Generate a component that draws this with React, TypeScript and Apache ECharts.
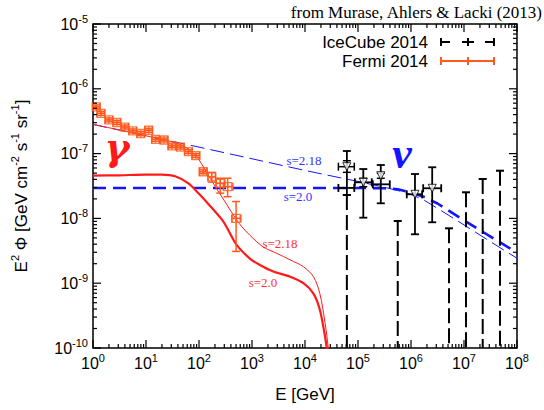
import React, { useEffect, useRef } from "react";
import * as echarts from "echarts";

// axis extents
const X_MIN = 1;
const X_MAX = 1e8;
const Y_MIN = 1e-10;
const Y_MAX = 1e-5;

// all values below as log10(E/GeV) and log10(E^2 Phi)
// neutrino model lines
const nuThinLogE = [0, 1, 2, 3, 4, 5, 5.5, 5.75, 6.0, 6.25, 6.5, 7.0, 7.5, 8.0];
const nuThinLogF = [-6.55, -6.725, -6.9, -7.08, -7.26, -7.43, -7.52, -7.57, -7.63, -7.72, -7.845, -8.1, -8.36, -8.615];
const nuThickLogE = [0, 5.0, 5.5, 5.75, 6.0, 6.25, 6.5, 7.0, 7.5, 8.0];
const nuThickLogF = [-7.53, -7.53, -7.535, -7.55, -7.6, -7.67, -7.77, -8.03, -8.28, -8.53];

// gamma-ray model lines
const gamThickLogE = [0, 0.5, 1.0, 1.3, 1.55, 1.8, 2.0, 2.21, 2.46, 2.71, 2.96, 3.15, 3.4, 3.72, 3.97, 4.16, 4.28, 4.38, 4.41, 4.44];
const gamThickLogF = [-7.34, -7.335, -7.325, -7.325, -7.35, -7.46, -7.62, -7.81, -8.05, -8.41, -8.62, -8.72, -8.82, -8.9, -9.0, -9.16, -9.41, -9.83, -10.0, -10.2];
const gamThinLogE = [0, 0.5, 1.0, 1.3, 1.5, 1.64, 1.8, 1.96, 2.13, 2.3, 2.48, 2.65, 2.8, 2.96, 3.21, 3.47, 3.72, 3.97, 4.16, 4.28, 4.38, 4.44, 4.47];
const gamThinLogF = [-6.548, -6.636, -6.725, -6.78, -6.82, -6.86, -6.93, -7.05, -7.27, -7.5, -7.73, -7.95, -8.12, -8.26, -8.44, -8.54, -8.64, -8.745, -8.9, -9.16, -9.62, -10.0, -10.2];

// Fermi 2014
const fermiLogE = [0.06, 0.15, 0.3, 0.45, 0.6, 0.75, 0.9, 1.05, 1.18, 1.34, 1.49, 1.65, 1.8, 1.94, 2.08, 2.24, 2.4, 2.54, 2.7];
const fermiLogF = [-6.28, -6.38, -6.48, -6.52, -6.59, -6.65, -6.69, -6.64, -6.78, -6.79, -6.88, -6.9, -6.97, -7.03, -7.28, -7.36, -7.46, -7.51, -8.0];
const fermiLogFLo = [-6.31, -6.41, -6.51, -6.55, -6.62, -6.68, -6.72, -6.67, -6.81, -6.82, -6.91, -6.93, -7.0, -7.06, -7.31, -7.44, -7.61, -7.665, -8.51];
const fermiLogFHi = [-6.25, -6.35, -6.45, -6.49, -6.56, -6.62, -6.66, -6.61, -6.75, -6.76, -6.85, -6.87, -6.94, -7.0, -7.25, -7.29, -7.38, -7.38, -7.74];
const fermiLogELo = [0.0, 0.08, 0.23, 0.38, 0.53, 0.68, 0.83, 0.98, 1.11, 1.27, 1.42, 1.58, 1.73, 1.87, 2.01, 2.17, 2.32, 2.46, 2.62];
const fermiLogEHi = [0.13, 0.22, 0.37, 0.52, 0.67, 0.82, 0.97, 1.12, 1.25, 1.41, 1.56, 1.72, 1.87, 2.01, 2.15, 2.31, 2.49, 2.64, 2.79];

// IceCube 2014 points (crosses)
const iceLogE = [4.79, 5.1, 5.43, 6.075, 6.4];
const iceLogF = [-7.53, -7.443, -7.474, -7.628, -7.535];
const iceLogFLo = [-7.639, -7.989, -7.767, -8.245, -8.06];
const iceLogFHi = [-6.96, -7.238, -7.176, -7.315, -7.211];
const iceLogELo = [4.63, 4.94, 5.28, 5.92, 6.23];
const iceLogEHi = [4.93, 5.26, 5.6, 6.21, 6.57];

// open triangles
const triLogE = [4.79, 5.1, 5.43, 6.075, 6.4];
const triLogF = [-7.202, -7.443, -7.341, -7.628, -7.535];
const triLogFLo = [-7.289, -7.511, -7.381, -7.628, -7.535];
const triLogFHi = [-7.11, -7.381, -7.304, -7.628, -7.535];
const triLogELo = [4.63, 5.1, 5.43, 6.075, 6.4];
const triLogEHi = [4.93, 5.1, 5.43, 6.075, 6.4];

// IceCube upper limits (cap, dashed down to the axis)
const ulLogE = [4.79, 5.75, 6.717, 7.038, 7.353, 7.679];
const ulLogF = [-7.639, -8.04, -8.153, -7.597, -7.392, -7.264];

const P = (v: number) => Math.pow(10, v);

const BLUE = "#1414ff";
const RED = "#ff1a1a";
const ORANGE = "#ff5a1e";
const SANS = "Liberation Sans";
const SERIF = "Liberation Serif";

function pairs(xs: number[], ys: number[]) {
  return xs.map((x, i) => [P(x), P(ys[i])]);
}

function errRows(e: number[], f: number[], flo: number[], fhi: number[], elo: number[], ehi: number[]) {
  return e.map((x, i) => [P(x), P(f[i]), P(flo[i]), P(fhi[i]), P(elo[i]), P(ehi[i])]);
}

function errorBarRender(color: string, width: number, cap: number) {
  return (params: any, api: any) => {
    const x = api.value(0);
    const y = api.value(1);
    const p = api.coord([x, y]);
    const lo = api.coord([x, api.value(2)]);
    const hi = api.coord([x, api.value(3)]);
    const l = api.coord([api.value(4), y]);
    const r = api.coord([api.value(5), y]);
    const st = { stroke: color, lineWidth: width };
    const ch: any[] = [];
    if (Math.abs(lo[1] - hi[1]) > 0.5) {
      ch.push({ type: "line", shape: { x1: p[0], y1: lo[1], x2: p[0], y2: hi[1] }, style: st });
      ch.push({ type: "line", shape: { x1: p[0] - cap, y1: lo[1], x2: p[0] + cap, y2: lo[1] }, style: st });
      ch.push({ type: "line", shape: { x1: p[0] - cap, y1: hi[1], x2: p[0] + cap, y2: hi[1] }, style: st });
    }
    if (Math.abs(r[0] - l[0]) > 0.5) {
      ch.push({ type: "line", shape: { x1: l[0], y1: p[1], x2: r[0], y2: p[1] }, style: st });
      ch.push({ type: "line", shape: { x1: l[0], y1: p[1] - cap, x2: l[0], y2: p[1] + cap }, style: st });
      ch.push({ type: "line", shape: { x1: r[0], y1: p[1] - cap, x2: r[0], y2: p[1] + cap }, style: st });
    }
    return { type: "group", children: ch };
  };
}

// frame ticks (major at decades, minor at 2..9)
const xDecades = [0, 1, 2, 3, 4, 5, 6, 7];
const yDecades = [-10, -9, -8, -7, -6];
const minorMult = [1, 2, 3, 4, 5, 6, 7, 8, 9];

function tickRows() {
  const rows: number[][] = [];
  xDecades.forEach((n) =>
    minorMult.forEach((k) => {
      const v = k * P(n);
      rows.push([v, Y_MIN, 0, k === 1 ? 1 : 0]);
      rows.push([v, Y_MAX, 1, k === 1 ? 1 : 0]);
    })
  );
  rows.push([X_MAX, Y_MIN, 0, 1], [X_MAX, Y_MAX, 1, 1]);
  yDecades.forEach((n) =>
    minorMult.forEach((k) => {
      const v = k * P(n);
      rows.push([X_MIN, v, 2, k === 1 ? 1 : 0]);
      rows.push([X_MAX, v, 3, k === 1 ? 1 : 0]);
    })
  );
  rows.push([X_MIN, Y_MAX, 2, 1], [X_MAX, Y_MAX, 3, 1]);
  return rows;
}

const expLabel = (v: number) => `10{sup|${Math.round(Math.log10(v))}}`;

export default function App() {
  const ref = useRef<HTMLDivElement>(null);
  useEffect(() => {
    if (!ref.current) return;
    const chart = echarts.init(ref.current, undefined, { renderer: "svg" });
    const labelStyle = {
      fontFamily: SANS,
      fontSize: 16,
      color: "#000",
      lineHeight: 22,
      rich: { sup: { fontFamily: SANS, fontSize: 11, lineHeight: 9, verticalAlign: "top", color: "#000" } },
    };
    const option: any = {
      animation: false,
      backgroundColor: "#fff",
      grid: { left: 93, right: 27, top: 24, bottom: 62, show: true, borderColor: "#000", borderWidth: 1.5, backgroundColor: "transparent" },
      xAxis: {
        type: "log",
        logBase: 10,
        min: X_MIN,
        max: X_MAX,
        splitNumber: 8,
        name: "E [GeV]",
        nameLocation: "middle",
        nameGap: 38,
        nameTextStyle: { fontFamily: SANS, fontSize: 17, color: "#000" },
        axisLine: { show: false },
        axisTick: { show: false },
        splitLine: { show: false },
        axisLabel: { ...labelStyle, margin: 4, formatter: expLabel },
      },
      yAxis: {
        type: "log",
        logBase: 10,
        min: Y_MIN,
        max: Y_MAX,
        splitNumber: 5,
        name: "E{sup|2} Φ [GeV cm{sup|-2} s{sup|-1} sr{sup|-1}]",
        nameLocation: "middle",
        nameGap: 60,
        nameTextStyle: {
          fontFamily: SANS,
          fontSize: 17,
          color: "#000",
          lineHeight: 24,
          rich: { sup: { fontFamily: SANS, fontSize: 11, lineHeight: 10, verticalAlign: "top", color: "#000" } },
        },
        axisLine: { show: false },
        axisTick: { show: false },
        splitLine: { show: false },
        axisLabel: { ...labelStyle, margin: 5, formatter: expLabel },
      },
      graphic: [
        { type: "text", x: 542, y: 12, style: { text: "from Murase, Ahlers & Lacki (2013)", font: `17px "${SERIF}"`, fill: "#000", align: "right", verticalAlign: "middle" } },
        { type: "text", x: 428, y: 42, style: { text: "IceCube 2014", font: `17px "${SANS}"`, fill: "#000", align: "right", verticalAlign: "middle" } },
        { type: "text", x: 428, y: 61, style: { text: "Fermi 2014", font: `17px "${SANS}"`, fill: "#000", align: "right", verticalAlign: "middle" } },
        // legend samples
        { type: "line", shape: { x1: 441, y1: 42, x2: 450, y2: 42 }, style: { stroke: "#000", lineWidth: 2 } },
        { type: "line", shape: { x1: 462, y1: 42, x2: 474, y2: 42 }, style: { stroke: "#000", lineWidth: 2 } },
        { type: "line", shape: { x1: 485, y1: 42, x2: 494, y2: 42 }, style: { stroke: "#000", lineWidth: 2 } },
        { type: "line", shape: { x1: 441, y1: 38, x2: 441, y2: 46 }, style: { stroke: "#000", lineWidth: 2 } },
        { type: "line", shape: { x1: 468, y1: 38, x2: 468, y2: 46 }, style: { stroke: "#000", lineWidth: 2 } },
        { type: "line", shape: { x1: 494, y1: 38, x2: 494, y2: 46 }, style: { stroke: "#000", lineWidth: 2 } },
        { type: "line", shape: { x1: 441, y1: 61, x2: 494, y2: 61 }, style: { stroke: ORANGE, lineWidth: 2 } },
        { type: "line", shape: { x1: 441, y1: 57, x2: 441, y2: 65 }, style: { stroke: ORANGE, lineWidth: 2 } },
        { type: "line", shape: { x1: 468, y1: 57, x2: 468, y2: 65 }, style: { stroke: ORANGE, lineWidth: 2 } },
        { type: "line", shape: { x1: 494, y1: 57, x2: 494, y2: 65 }, style: { stroke: ORANGE, lineWidth: 2 } },
        // annotations
        { type: "text", x: 117, y: 146, style: { text: "γ", font: `italic bold 38px "DejaVu Serif"`, fill: RED, align: "center", verticalAlign: "middle" } },
        { type: "text", x: 402, y: 153, style: { text: "ν", font: `italic bold 44px "${SERIF}"`, fill: BLUE, align: "center", verticalAlign: "middle" } },
        { type: "text", x: 304, y: 160, style: { text: "s=2.18", font: `13px "${SERIF}"`, fill: "#3333ff", align: "center", verticalAlign: "middle" } },
        { type: "text", x: 298, y: 196, style: { text: "s=2.0", font: `13px "${SERIF}"`, fill: "#3333ff", align: "center", verticalAlign: "middle" } },
        { type: "text", x: 280, y: 243, style: { text: "s=2.18", font: `13px "${SERIF}"`, fill: "#ff3333", align: "center", verticalAlign: "middle" } },
        { type: "text", x: 263, y: 282, style: { text: "s=2.0", font: `13px "${SERIF}"`, fill: "#ff3333", align: "center", verticalAlign: "middle" } },
      ],
      series: [
        {
          type: "line",
          name: "nu s=2.18",
          data: pairs(nuThinLogE, nuThinLogF),
          showSymbol: false,
          lineStyle: { color: BLUE, width: 1, type: [14, 6] },
          z: 3,
        },
        {
          type: "line",
          name: "nu s=2.0",
          data: pairs(nuThickLogE, nuThickLogF),
          showSymbol: false,
          lineStyle: { color: BLUE, width: 2.6, type: [13, 7] },
          z: 3,
        },
        {
          type: "line",
          name: "gamma s=2.0",
          data: pairs(gamThickLogE, gamThickLogF),
          showSymbol: false,
          smooth: 0.3,
          lineStyle: { color: RED, width: 2.2 },
          z: 3,
        },
        {
          type: "line",
          name: "gamma s=2.18",
          data: pairs(gamThinLogE, gamThinLogF),
          showSymbol: false,
          smooth: 0.3,
          lineStyle: { color: RED, width: 1 },
          z: 3,
        },
        {
          type: "custom",
          name: "Fermi 2014 errors",
          data: errRows(fermiLogE, fermiLogF, fermiLogFLo, fermiLogFHi, fermiLogELo, fermiLogEHi),
          renderItem: errorBarRender(ORANGE, 1.5, 4),
          z: 4,
        },
        {
          type: "scatter",
          name: "Fermi 2014",
          data: pairs(fermiLogE, fermiLogF),
          symbol: "path://M0 0H10V10H0Z M5 0V10 M0 5H10",
          symbolSize: 8,
          itemStyle: { color: "rgba(0,0,0,0)", borderColor: ORANGE, borderWidth: 1.3 },
          z: 5,
        },
        {
          type: "custom",
          name: "IceCube 2014 upper limits",
          data: pairs(ulLogE, ulLogF),
          renderItem: (params: any, api: any) => {
            const x = api.value(0);
            const top = api.coord([x, api.value(1)]);
            const bot = api.coord([x, Y_MIN]);
            return {
              type: "group",
              children: [
                { type: "line", shape: { x1: top[0], y1: top[1], x2: top[0], y2: bot[1] }, style: { stroke: "#000", lineWidth: 2, lineDash: [15, 5] } },
                { type: "line", shape: { x1: top[0] - 4, y1: top[1], x2: top[0] + 4, y2: top[1] }, style: { stroke: "#000", lineWidth: 2 } },
              ],
            };
          },
          z: 4,
        },
        {
          type: "custom",
          name: "IceCube 2014",
          data: errRows(iceLogE, iceLogF, iceLogFLo, iceLogFHi, iceLogELo, iceLogEHi),
          renderItem: errorBarRender("#000", 1.8, 4),
          z: 5,
        },
        {
          type: "custom",
          name: "IceCube triangles errors",
          data: errRows(triLogE, triLogF, triLogFLo, triLogFHi, triLogELo, triLogEHi),
          renderItem: errorBarRender("#000", 1.5, 4),
          z: 5,
        },
        {
          type: "scatter",
          name: "IceCube triangles",
          data: pairs(triLogE, triLogF),
          symbol: "triangle",
          symbolRotate: 180,
          symbolSize: 8,
          itemStyle: { color: "#fff", borderColor: "#000", borderWidth: 1 },
          z: 6,
        },
        {
          type: "custom",
          name: "frame ticks",
          data: tickRows(),
          renderItem: (params: any, api: any) => {
            const p = api.coord([api.value(0), api.value(1)]);
            const side = api.value(2);
            const len = api.value(3) ? 8 : 4;
            let x2 = p[0];
            let y2 = p[1];
            if (side === 0) y2 = p[1] - len;
            else if (side === 1) y2 = p[1] + len;
            else if (side === 2) x2 = p[0] + len;
            else x2 = p[0] - len;
            return { type: "line", shape: { x1: p[0], y1: p[1], x2, y2 }, style: { stroke: "#000", lineWidth: 1.2 } };
          },
          z: 10,
        },
      ],
    };
    chart.setOption(option);
    return () => chart.dispose();
  }, []);
  return <div ref={ref} style={{ width: 544, height: 410, position: "absolute", left: 0, top: 0 }} />;
}
